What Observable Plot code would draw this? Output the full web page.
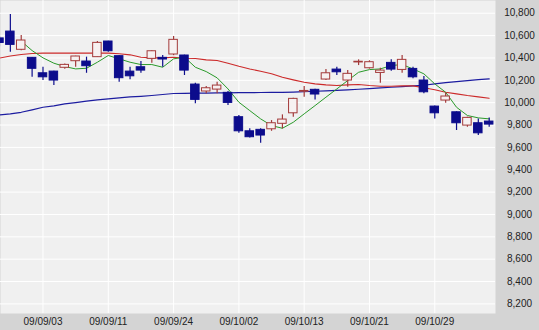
<!DOCTYPE html>
<html>
<head>
<meta charset="utf-8">
<script src="https://cdn.jsdelivr.net/npm/d3@7"></script>
<script src="https://cdn.jsdelivr.net/npm/@observablehq/plot@0.6"></script>
<style>
  html, body { margin: 0; padding: 0; background: #d4d4d4; }
  #chart svg { display: block; }
</style>
</head>
<body>
<div id="chart"></div>
<script>
// Trading days (Nikkei-style daily candles)
const dates = ["09/08/28","09/08/31","09/09/01","09/09/02","09/09/03","09/09/04","09/09/07","09/09/08","09/09/09","09/09/10",
  "09/09/11","09/09/14","09/09/15","09/09/16","09/09/17","09/09/18","09/09/24","09/09/25","09/09/28","09/09/29",
  "09/09/30","09/10/01","09/10/02","09/10/05","09/10/06","09/10/07","09/10/08","09/10/09","09/10/13","09/10/14",
  "09/10/15","09/10/16","09/10/19","09/10/20","09/10/21","09/10/22","09/10/23","09/10/26","09/10/27","09/10/28",
  "09/10/29","09/10/30","09/11/02","09/11/04","09/11/05","09/11/06"];
const open  = [10575,10636,10473,10401,10263,10278,10312,10371,10368,10407,10547,10416,10278,10317,10392,10401,10431,10422,10162,10100,10117,10088,9870,9744,9757,9762,9811,9905,10098,10115,10207,10296,10198,10360,10308,10266,10356,10293,10302,10198,9965,10019,9914,9795,9816,9831];
const high  = [10600,10788,10600,10405,10317,10280,10345,10415,10407,10547,10550,10420,10317,10368,10465,10422,10592,10425,10174,10144,10183,10100,9885,9766,9766,9840,9891,10040,10144,10120,10296,10317,10287,10383,10375,10308,10383,10422,10317,10234,9970,10084,9918,9870,9855,9864];
const low   = [10500,10451,10465,10227,10198,10153,10300,10317,10263,10405,10450,10183,10204,10263,10353,10317,10420,10243,9990,10079,10079,9974,9726,9685,9637,9744,9766,9870,10049,10025,10198,10243,10138,10332,10300,10174,10281,10263,10213,10079,9855,9995,9751,9780,9706,9780];
const close = [10534,10517,10556,10303,10227,10198,10338,10413,10326,10535,10460,10219,10236,10287,10460,10386,10562,10287,10025,10129,10153,9998,9744,9691,9706,9816,9849,10034,10105,10073,10263,10272,10258,10366,10362,10287,10296,10383,10227,10093,9905,10055,9816,9864,9726,9804];
// Moving averages (null = not drawn)
const ma5  = [null,null,10550,10466,10401,10353,10323,10302,10308,10362,10422,10392,10362,10341,10341,10317,10392,10407,10317,10278,10222,10123,10004,9929,9855,9795,9771,9825,9900,9974,10049,10123,10198,10272,10296,10302,10332,10341,10302,10258,10168,10093,9959,9885,9864,9855];
const ma25 = [10399,10417,10431,10440,10443,10443,10443,10443,10443,10443,10443,10437,10428,10407,10401,10401,10407,10398,10395,10383,10377,10353,10326,10302,10281,10258,10227,10204,10183,10168,10159,10153,10159,10162,10153,10147,10147,10150,10150,10133,10115,10093,10079,10064,10052,10040];
const ma75 = [9891,9900,9914,9936,9959,9971,9989,10001,10013,10025,10034,10043,10052,10057,10064,10073,10082,10084,10085,10086,10087,10088,10089,10090,10091,10092,10093,10095,10098,10102,10106,10110,10115,10120,10126,10132,10138,10144,10150,10156,10168,10180,10189,10198,10207,10213];
const yTicks = [8200,8400,8600,8800,9000,9200,9400,9600,9800,10000,10200,10400,10600,10800];
const xTickIdx = [4,10,16,22,28,34,40];

const candles = dates.map((d, i) => ({i, date: d, open: open[i], high: high[i], low: low[i], close: close[i], up: close[i] >= open[i]}));
const maRows = (arr) => arr.map((v, i) => ({i, v})).filter(d => d.v != null);

const UP = "#a33a3a", DOWN = "#0c0c8c";
const fmt = d3.format(",");

const chart = Plot.plot({
  width: 539,
  height: 330,
  marginLeft: 0,
  marginRight: 44,
  marginTop: 0,
  marginBottom: 17,
  style: {background: "#d4d4d4", fontFamily: "'Liberation Sans', Arial, sans-serif", fontSize: "10px", color: "#222"},
  x: {type: "linear", domain: [0.095, 45.58], label: null},
  y: {domain: [8114, 10914], label: null},
  marks: [
    Plot.frame({fill: "#f0f0f0", stroke: null}),
    Plot.ruleY(yTicks, {stroke: "#ffffff", strokeWidth: 1}),
    Plot.ruleX(xTickIdx, {stroke: "#ffffff", strokeWidth: 1}),
    Plot.axisY(yTicks, {anchor: "right", tickSize: 0, tickPadding: 24, textAnchor: "middle", tickFormat: fmt, fill: "#222", fontSize: 10, label: null}),
    Plot.axisX(xTickIdx, {anchor: "bottom", tickSize: 0, tickPadding: 4, tickFormat: i => dates[i], fill: "#222", fontSize: 10, label: null}),
    Plot.line(maRows(ma75), {x: "i", y: "v", stroke: "#1c1ca0", strokeWidth: 1.2, clip: true}),
    Plot.line(maRows(ma25), {x: "i", y: "v", stroke: "#cc2a2a", strokeWidth: 1.1, clip: true}),
    Plot.line(maRows(ma5), {x: "i", y: "v", stroke: "#2a9a2a", strokeWidth: 1, clip: true}),
    Plot.ruleX(candles, {x: "i", y1: "low", y2: "high", stroke: d => d.up ? UP : DOWN, strokeWidth: 1.2, clip: true}),
    Plot.rect(candles, {
      x1: d => d.i - 0.39, x2: d => d.i + 0.39,
      y1: "open", y2: "close",
      fill: d => d.up ? "#f7f1f1" : DOWN,
      stroke: d => d.up ? UP : DOWN,
      strokeWidth: 1,
      clip: true
    })
  ]
});
document.getElementById("chart").appendChild(chart);
</script>
</body>
</html>
